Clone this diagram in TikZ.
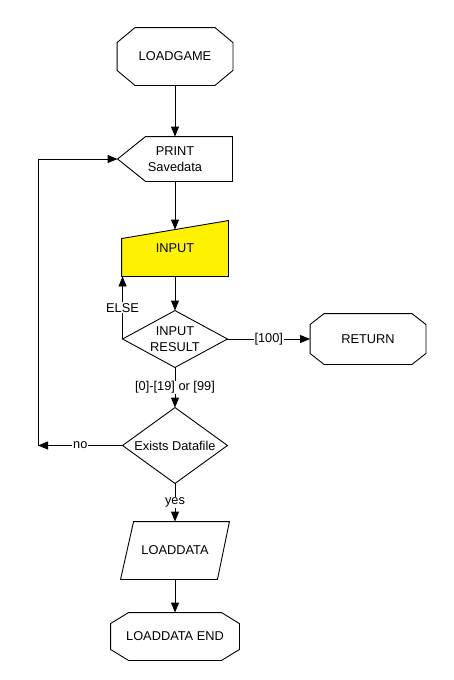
\documentclass[tikz,border=0pt]{standalone}
\usepackage{fontspec}
\setmainfont{Liberation Sans}
\usetikzlibrary{arrows.meta}
\usetikzlibrary{calc}

% outline of a terminal: #1 node, #2 chamfer in x, #3 chamfer in y
\newcommand{\octoutline}[3]{%
  \draw ($(#1.north west)+(#2,0)$) -- ($(#1.north east)+(-#2,0)$)
     -- ($(#1.north east)+(0,#3)$) -- ($(#1.south east)+(0,-#3)$)
     -- ($(#1.south east)+(-#2,0)$) -- ($(#1.south west)+(#2,0)$)
     -- ($(#1.south west)+(0,-#3)$) -- ($(#1.north west)+(0,#3)$) -- cycle;}

\begin{document}
\begin{tikzpicture}[x=1pt, y=-1pt, >={Triangle[length=10pt,width=8pt]}, line width=0.9pt,
    every node/.style={font=\fontsize{12.8}{15.5}\selectfont, align=center},
    shapebox/.style={inner sep=0pt},
    lbl/.style={fill=white, inner sep=1pt}]
  \useasboundingbox (0,0) rectangle (454,680);

  % shapes
  \node[shapebox, minimum width=115, minimum height=57] (load) at (175,56.5) {LOADGAME};
  \octoutline{load}{18}{15}

  \node[shapebox, minimum width=114, minimum height=44] (print) at (175,159) {PRINT\\Savedata};
  \draw (print.west) -- ($(print.north west)+(28,0)$) -- (print.north east)
     -- (print.south east) -- ($(print.south west)+(28,0)$) -- cycle;

  \node[shapebox, minimum width=106, minimum height=55] (inp) at (175,248.5) {};
  \filldraw[fill=yellow] (inp.south west) -- ($(inp.north west)+(0,18)$) -- (inp.north east)
     -- (inp.south east) -- cycle;
  \node at (175,248) {INPUT};

  \node[shapebox, minimum width=104, minimum height=56] (res) at (175,339) {INPUT\\RESULT};
  \draw (res.north) -- (res.east) -- (res.south) -- (res.west) -- cycle;

  \node[shapebox, minimum width=115, minimum height=50] (ret) at (368,339) {RETURN};
  \octoutline{ret}{14}{11}

  \node[shapebox, minimum width=104, minimum height=75] (ex) at (175,445.5) {Exists Datafile};
  \draw (ex.north) -- (ex.east) -- (ex.south) -- (ex.west) -- cycle;

  \node[shapebox, minimum width=108, minimum height=57] (ld) at (175,550.5) {LOADDATA};
  \draw ($(ld.north west)+(13,0)$) -- (ld.north east) -- ($(ld.south east)+(-12,0)$)
     -- (ld.south west) -- cycle;

  \node[shapebox, minimum width=128, minimum height=47] (end) at (175,636.5) {LOADDATA END};
  \octoutline{end}{18}{11}

  % connectors
  \coordinate (back) at (38,445.5);
  \draw[->] (load) -- (print);
  \draw[->] (print.south) -- ($(inp.north)+(0,9)$);
  \draw[->] (inp.south) -- (res.north);
  \draw[->] (res.west) -- node[lbl] {ELSE} (res.west |- inp.south);
  \draw[->] (res.east) -- node[lbl] {[100]} (ret.west);
  \draw[->] (res.south) -- node[lbl] {[0]-[19] or [99]} (ex.north);
  \draw[->] (ex.west) -- node[lbl] {no} (back);
  \draw[->] (back) |- (print.west);
  \draw[->] (ex.south) -- node[lbl] {yes} (ld.north);
  \draw[->] (ld.south) -- (end.north);
\end{tikzpicture}
\end{document}
